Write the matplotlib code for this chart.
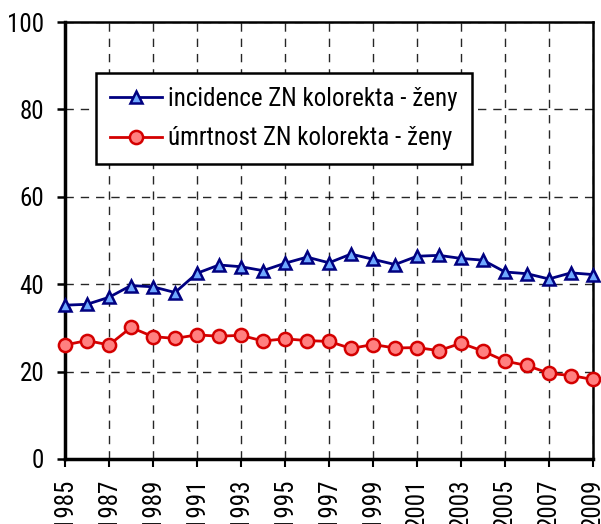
import numpy as np
import matplotlib
matplotlib.use('Agg')
import matplotlib.pyplot as plt

plt.rcParams['font.family'] = ['Roboto Condensed', 'Liberation Sans', 'DejaVu Sans']

years = list(range(1985, 2010))
incidence = [35.2, 35.4, 37.0, 39.7, 39.4, 38.1, 42.5, 44.4, 44.0, 43.1, 44.8, 46.2, 44.9,
             46.9, 45.7, 44.5, 46.4, 46.6, 45.9, 45.5, 42.8, 42.4, 41.2, 42.6, 42.2]
mortality = [26.1, 27.1, 26.1, 30.1, 28.0, 27.6, 28.4, 28.1, 28.3, 27.0, 27.5, 27.1, 26.9,
             25.3, 26.2, 25.4, 25.5, 24.8, 26.5, 24.7, 22.4, 21.4, 19.6, 19.1, 18.2]
labels = [u'incidence ZN kolorekta - ženy', u'úmrtnost ZN kolorekta - ženy']

fig = plt.figure(figsize=(6.01, 5.24), dpi=100)
ax = fig.add_axes([65/601, 1 - 459/524, (593-65)/601, (459-22)/524])

ax.plot(years, incidence, '-^', color='#000080', lw=2.0, ms=9,
        mfc='#6FA8FF', mec='#000080', mew=1.8, label=labels[0], clip_on=False, zorder=3)
ax.plot(years, mortality, '-o', color='#D40000', lw=2.0, ms=9.5,
        mfc='#FF8080', mec='#D40000', mew=1.8, label=labels[1], clip_on=False, zorder=3)

ax.set_xlim(1985, 2009)
ax.set_ylim(0, 100)
ax.set_xticks(range(1985, 2010, 2))
ax.set_yticks(range(0, 101, 20))
ax.tick_params(axis='x', labelrotation=90, labelsize=18, direction='out', length=6, width=1.5, pad=8)
ax.tick_params(axis='y', labelsize=18, direction='out', length=6, width=1.8, pad=9)
ax.grid(True, color='black', ls=(0, (6, 5)), lw=1.0, alpha=0.85)

for side in ['left', 'bottom']:
    ax.spines[side].set_linewidth(2.5)
for side in ['top', 'right']:
    ax.spines[side].set_linewidth(1.8)

leg = ax.legend(loc='upper left', bbox_to_anchor=(31/528, (459-73)/437), fontsize=18,
                fancybox=False, framealpha=1, edgecolor='black', borderpad=0.55,
                borderaxespad=0, handlelength=2.1, handletextpad=0.25, labelspacing=0.62)
leg.get_frame().set_linewidth(1.8)

plt.savefig('out.png', dpi=100)
